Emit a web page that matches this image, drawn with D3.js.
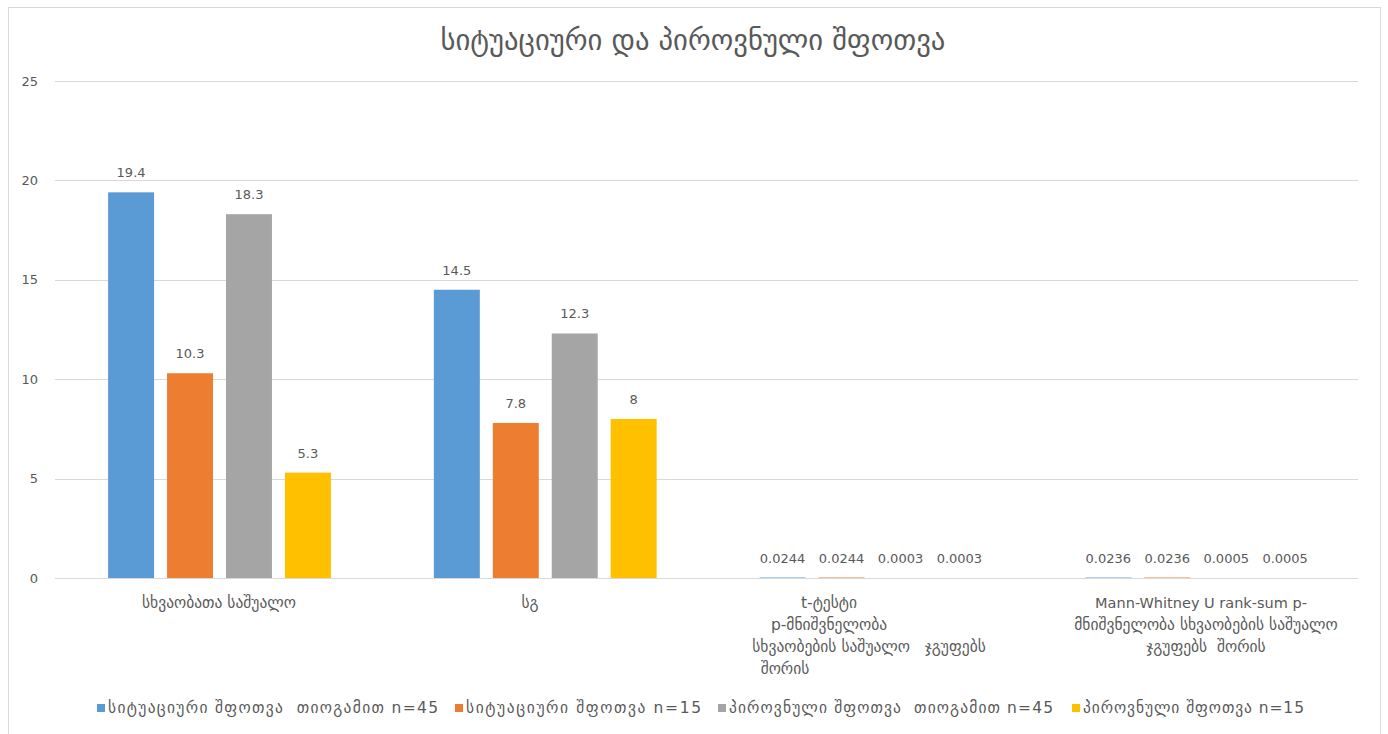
<!DOCTYPE html>
<html>
<head>
<meta charset="utf-8">
<script src="https://cdn.jsdelivr.net/npm/d3@7"></script>
<style>
  html, body { margin: 0; padding: 0; background: #fff; }
  svg { display: block; }
  text { font-family: "DejaVu Sans", "Noto Sans", sans-serif; fill: #595959; white-space: pre; }
</style>
</head>
<body>
<svg id="chart" width="1388" height="734"></svg>
<script>
// Chart data
const title = "სიტუაციური და პიროვნული შფოთვა";
const categories = ["mean", "sd", "ttest", "mannwhitney"];
const categoryLines = [
  ["სხვაობათა საშუალო"],
  ["სგ"],
  ["t-ტესტი", "p-მნიშვნელობა", "სხვაობების საშუალო   ჯგუფებს", "შორის"],
  ["Mann-Whitney U rank-sum p-", "მნიშვნელობა სხვაობების საშუალო", "ჯგუფებს  შორის"]
];
const seriesNames = [
  "სიტუაციური შფოთვა  თიოგამით n=45",
  "სიტუაციური შფოთვა n=15",
  "პიროვნული შფოთვა  თიოგამით n=45",
  "პიროვნული შფოთვა n=15"
];
const situationalThio = [19.4, 14.5, 0.0244, 0.0236];
const situational = [10.3, 7.8, 0.0244, 0.0236];
const personalThio = [18.3, 12.3, 0.0003, 0.0005];
const personal = [5.3, 8, 0.0003, 0.0005];
const seriesValues = [situationalThio, situational, personalThio, personal];
const valueLabels = [
  ["19.4", "14.5", "0.0244", "0.0236"],
  ["10.3", "7.8", "0.0244", "0.0236"],
  ["18.3", "12.3", "0.0003", "0.0005"],
  ["5.3", "8", "0.0003", "0.0005"]
];
const yTicks = [0, 5, 10, 15, 20, 25];
const colors = ["#5b9bd5", "#ed7d31", "#a5a5a5", "#ffc000"];

const svg = d3.select("#chart");

// scale a text element's font size so its width equals the target
function fitWidth(sel, target) {
  sel.each(function () {
    const base = parseFloat(this.getAttribute("font-size"));
    const w = this.getComputedTextLength();
    if (w > 0) this.setAttribute("font-size", (base * target / w).toFixed(2));
  });
}
// shrink a text element's font size only if it is wider than the target
function capWidth(sel, target) {
  sel.each(function () {
    const base = parseFloat(this.getAttribute("font-size"));
    const w = this.getComputedTextLength();
    if (w > target) this.setAttribute("font-size", (base * target / w).toFixed(2));
  });
}

// chart frame
svg.append("rect")
  .attr("x", 8.5).attr("y", 7.5).attr("width", 1372).attr("height", 740)
  .attr("fill", "#fff").attr("stroke", "#d9d9d9");

const plot = { left: 55, right: 1358, top: 81, bottom: 578 };

const x0 = d3.scaleBand().domain(categories).range([plot.left, plot.right]).padding(0);
const bw = x0.bandwidth();
const x1 = d3.scaleBand().domain(d3.range(4))
  .range([bw * 0.163, bw * 0.847]).paddingInner(0.22).paddingOuter(0);
const y = d3.scaleLinear().domain([0, 25]).range([plot.bottom, plot.top]);

// gridlines
svg.append("g").selectAll("line").data(yTicks).join("line")
  .attr("x1", plot.left).attr("x2", plot.right)
  .attr("y1", d => Math.round(y(d)) + 0.5).attr("y2", d => Math.round(y(d)) + 0.5)
  .attr("stroke", "#d9d9d9").attr("stroke-width", 1);

// y axis labels
const yAxis = d3.axisLeft(y).tickValues(yTicks).tickSize(0).tickPadding(0);
const ya = svg.append("g").attr("transform", "translate(38,0)").call(yAxis);
ya.select(".domain").remove();
ya.selectAll("text").attr("font-size", 13).attr("fill", "#595959")
  .style("font-family", "'DejaVu Sans', sans-serif");

// bars
const groups = svg.append("g").selectAll("g").data(categories).join("g")
  .attr("transform", d => `translate(${x0(d)},0)`);

groups.each(function (cat, ci) {
  const g = d3.select(this);
  seriesValues.forEach((vals, si) => {
    const v = vals[ci];
    g.append("rect")
      .attr("x", x1(si)).attr("width", x1.bandwidth())
      .attr("y", y(v)).attr("height", y(0) - y(v))
      .attr("fill", colors[si]);
    g.append("text")
      .attr("x", x1(si) + x1.bandwidth() / 2)
      .attr("y", y(v) - 15)
      .attr("text-anchor", "middle")
      .attr("font-size", 13)
      .text(valueLabels[si][ci]);
  });
});

// category labels
const catLayout = [
  { cx: [219], y0: 608 },
  { cx: [530], y0: 608 },
  { cx: [829, 829, 869, 785], y0: 608 },
  { cx: [1201, 1206, 1206], y0: 608 }
];
const catWidths = [[175], [40], [90, 140, 275, 70], [235, 275, 140]];
categoryLines.forEach((lines, ci) => {
  lines.forEach((ln, li) => {
    const latin = ln.startsWith("Mann");
    const t = svg.append("text")
      .attr("x", catLayout[ci].cx[li])
      .attr("y", catLayout[ci].y0 + li * 22)
      .attr("text-anchor", "middle")
      .attr("font-size", latin ? 14.5 : 15.5)
      .text(ln);
    capWidth(t, catWidths[ci][li]);
  });
});

// title
const tt = svg.append("text")
  .attr("x", 693).attr("y", 50)
  .attr("text-anchor", "middle")
  .attr("font-size", 22)
  .text(title);
fitWidth(tt, 505);

// legend
const legendX = [97, 455, 718, 1072];
const legendW = [330, 235, 324, 221];
seriesNames.forEach((name, i) => {
  svg.append("rect")
    .attr("x", legendX[i]).attr("y", 704).attr("width", 8).attr("height", 8)
    .attr("fill", colors[i]);
  const t = svg.append("text")
    .attr("x", legendX[i] + 11).attr("y", 713)
    .attr("font-size", 15.5)
    .text(name);
  const w = t.node().getComputedTextLength();
  if (w < legendW[i]) {
    t.attr("textLength", legendW[i]).attr("lengthAdjust", "spacing");
  } else {
    capWidth(t, legendW[i]);
  }
});
</script>
</body>
</html>
